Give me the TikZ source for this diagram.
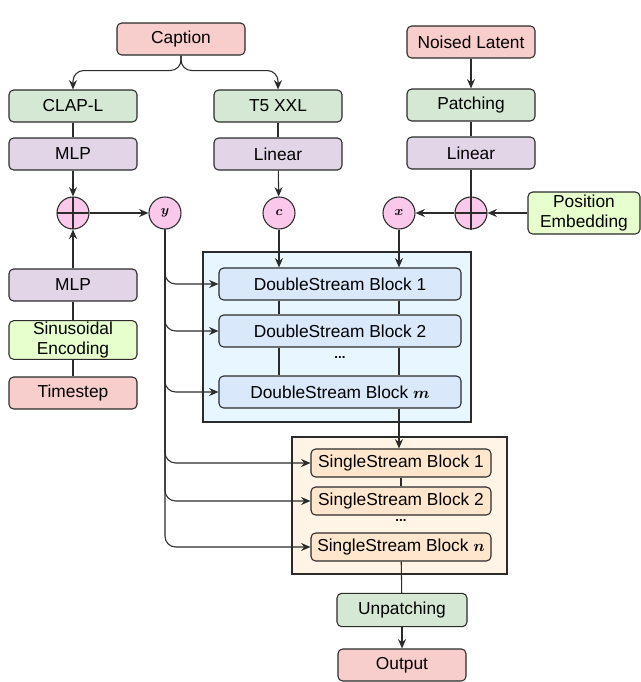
\documentclass[tikz,border=0pt]{standalone}
\usepackage{fontspec}
\setmainfont{Liberation Sans}
\usepackage{bm}
\usetikzlibrary{arrows.meta}

\definecolor{capred}{HTML}{F8CECC}
\definecolor{encgreen}{HTML}{D5E8D4}
\definecolor{projpurple}{HTML}{E1D5E7}
\definecolor{condlime}{HTML}{E6FFCC}
\definecolor{varpink}{HTML}{F9C8EA}
\definecolor{dsblue}{HTML}{DAE8FC}
\definecolor{dsback}{HTML}{E8F7FF}
\definecolor{ssorange}{HTML}{FFE6CC}
\definecolor{ssback}{HTML}{FFF4E6}
\definecolor{edge}{HTML}{2B2B2B}

\tikzset{
  blk/.style={draw=edge, line width=0.8pt, rounded corners=3.5pt, inner sep=1pt,
    minimum width=96pt, minimum height=24pt, align=center,
    font=\fontsize{13}{15}\selectfont},
  redbox/.style={blk, fill=capred},
  greenbox/.style={blk, fill=encgreen},
  purplebox/.style={blk, fill=projpurple},
  limebox/.style={blk, fill=condlime},
  dsblock/.style={blk, fill=dsblue, minimum width=181.5pt},
  ssblock/.style={blk, fill=ssorange, minimum width=135pt, minimum height=21pt},
  var/.style={circle, draw=edge, line width=0.8pt, fill=varpink, minimum size=24pt,
    inner sep=0pt, font=\normalsize},
  plus/.style={var, path picture={
      \draw[edge, line width=0.8pt]
        (path picture bounding box.north) -- (path picture bounding box.south)
        (path picture bounding box.west) -- (path picture bounding box.east);}},
  arr/.style={-{Stealth[length=7pt,width=6pt]}, line width=0.8pt, draw=edge},
  link/.style={line width=0.8pt, draw=edge},
  dots/.style={font=\bfseries, inner sep=0pt}
}

\begin{document}
\begin{tikzpicture}[x=0.75pt, y=-0.75pt]
  \useasboundingbox (0,0) rectangle (640,682);

  \draw[edge, line width=0.8pt, fill=dsback] (203,252) rectangle (471,422);
  \draw[edge, line width=0.8pt, fill=ssback] (292,437) rectangle (507,574);

  \node[redbox] (cap) at (181,39) {Caption};
  \node[greenbox] (clap) at (73,106) {CLAP-L};
  \node[greenbox] (t5) at (278,106) {T5 XXL};
  \node[purplebox] (mlpa) at (73,154) {MLP};
  \node[purplebox] (lina) at (278,154) {Linear};

  \node[redbox] (noise) at (471,42) {Noised Latent};
  \node[greenbox] (patch) at (471,105) {Patching};
  \node[purplebox] (linb) at (471,153) {Linear};
  \node[limebox, minimum width=84pt, minimum height=31.5pt, inner sep=0pt,
    font=\fontsize{13}{14.5}\selectfont] (pos) at (584,213) {Position\\Embedding};

  \node[plus] (plusa) at (73,213) {};
  \node[var] (y) at (165,213) {$\bm{y}$};
  \node[var] (c) at (279,213) {$\bm{c}$};
  \node[var] (x) at (399,213) {$\bm{x}$};
  \node[plus] (plusb) at (471,213) {};

  \node[purplebox] (mlpb) at (73,285) {MLP};
  \node[limebox, minimum height=29pt, inner sep=0pt,
    font=\fontsize{13}{14.5}\selectfont] (sin) at (73,340) {Sinusoidal\\Encoding};
  \node[redbox] (ts) at (73,393) {Timestep};

  \node[dsblock] (ds1) at (340,284) {DoubleStream Block 1};
  \node[dsblock] (ds2) at (340,331) {DoubleStream Block 2};
  \node[dots] (dsdots) at (340,358) {...};
  \node[dsblock] (dsm) at (340,392) {DoubleStream Block $\bm{m}$};

  \node[ssblock] (ss1) at (401,463) {SingleStream Block 1};
  \node[ssblock] (ss2) at (401,501) {SingleStream Block 2};
  \node[dots] (ssdots) at (401,521) {...};
  \node[ssblock] (ssn) at (401,547) {SingleStream Block $\bm{n}$};

  \node[greenbox, minimum width=97.5pt, minimum height=25pt] (unp) at (402,610) {Unpatching};
  \node[redbox] (out) at (402,665) {Output};

  \draw[arr, rounded corners=8pt] (cap.south) -- ++(0,15) -| (clap.north);
  \draw[arr, rounded corners=8pt] (cap.south) -- ++(0,15) -| (t5.north);
  \draw[link] (clap) -- (mlpa);
  \draw[link] (t5) -- (lina);
  \draw[arr] (mlpa) -- (plusa);
  \draw[arr] (lina) -- (c);
  \draw[link] (ts) -- (sin);
  \draw[link] (sin) -- (mlpb);
  \draw[arr] (mlpb) -- (plusa);
  \draw[arr] (plusa) -- (y);

  \draw[arr] (noise) -- (patch);
  \draw[link] (patch) -- (linb);
  \draw[link] (linb.south) -- (plusb.south);
  \draw[arr] (pos) -- (plusb);
  \draw[arr] (plusb) -- (x);

  \draw[arr] (c) -- (c |- ds1.north);
  \draw[arr] (x) -- (x |- ds1.north);
  \foreach \s in {c,x} {
    \draw[link] (\s |- ds1.south) -- (\s |- ds2.north);
    \draw[link] (\s |- ds2.south) -- (\s |- dsm.north);
  }
  \draw[arr] (x |- dsm.south) -- (x |- ss1.north);
  \draw[link] (ss1) -- (ss2);
  \draw[link] (ssn) -- (unp);
  \draw[arr] (unp) -- (out);

  \foreach \b in {ds1,ds2,dsm,ss1,ss2,ssn}
    \draw[arr, rounded corners=8pt] (y.south) |- (\b.west);
\end{tikzpicture}
\end{document}
